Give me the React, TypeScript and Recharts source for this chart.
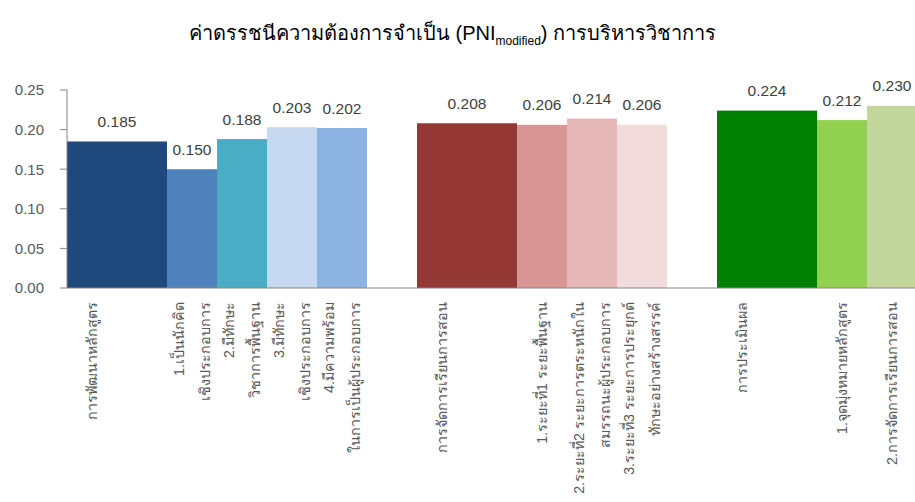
import React from 'react';
import { BarChart, Bar, XAxis, YAxis } from 'recharts';

// one slot per category position; wide bars cover two slots
const slotLabels = [
  'การพัฒนาหลักสูตร',
  '',
  '1.เป็นนักคิด\nเชิงประกอบการ',
  '2.มีทักษะ\nวิชาการพื้นฐาน',
  '3.มีทักษะ\nเชิงประกอบการ',
  '4.มีความพร้อม\nในการเป็นผู้ประกอบการ',
  '',
  'การจัดการเรียนการสอน',
  '',
  '1.ระยะที่1 ระยะพื้นฐาน',
  '2.ระยะที่2 ระยะการตระหนักใน\nสมรรถนะผู้ประกอบการ',
  '3.ระยะที่3 ระยะการประยุกต์\nทักษะอย่างสร้างสรรค์',
  '',
  'การประเมินผล',
  '',
  '1.จุดมุ่งหมายหลักสูตร',
  '2.การจัดการเรียนการสอน',
];

const slotValues: (number | null)[] = [
  0.185, null, 0.150, 0.188, 0.203, 0.202, null,
  0.208, null, 0.206, 0.214, 0.206, null,
  0.224, null, 0.212, 0.230,
];

const slotSpans = [2, 0, 1, 1, 1, 1, 0, 2, 0, 1, 1, 1, 0, 2, 0, 1, 1];

const barColors = [
  '#1f497d', '', '#4f81bd', '#4bacc6', '#c6d9f1', '#8db3e2', '',
  '#953735', '', '#d99694', '#e6b9b8', '#f2dcdb', '',
  '#008000', '', '#92d050', '#c3d69b',
];

const yTicks = [0, 0.05, 0.1, 0.15, 0.2, 0.25];

const data = slotLabels.map((label, i) => ({
  id: `s${i}`,
  label,
  value: slotValues[i],
  span: slotSpans[i],
  color: barColors[i],
}));

const FONT = "'Liberation Sans', 'Noto Sans', sans-serif";

const SpanBar = (props: any) => {
  const { x, y, width, height, payload } = props;
  if (!payload || payload.value == null || !payload.span) return null;
  const w = width * payload.span;
  return (
    <g>
      <rect x={x} y={y} width={w} height={height} fill={payload.color} />
      <text
        x={x + w / 2}
        y={y - 20}
        textAnchor="middle"
        dominantBaseline="central"
        fontSize={15.5}
        fontFamily={FONT}
        fill="#404040"
      >
        {payload.value.toFixed(3)}
      </text>
    </g>
  );
};

const SlotTick = (props: any) => {
  const { x, payload } = props;
  const idx = parseInt(String(payload.value).slice(1), 10);
  const text = slotLabels[idx];
  if (!text) return null;
  const lines = text.split('\n');
  const top = 302;
  const lh = 26;
  return (
    <g>
      {lines.map((line, i) => {
        const lx = x + (i - (lines.length - 1) / 2) * lh;
        return (
          <text
            key={i}
            x={lx}
            y={top}
            transform={`rotate(-90 ${lx} ${top})`}
            textAnchor="end"
            dominantBaseline="central"
            fontSize={14.3}
            fontFamily={FONT}
            fill="#595959"
          >
            {line}
          </text>
        );
      })}
    </g>
  );
};

export default function App() {
  return (
    <div style={{ position: 'absolute', left: 0, top: 0, width: 915, height: 502, overflow: 'hidden', background: '#fff' }}>
      <div
        style={{
          position: 'absolute',
          top: 17,
          left: 0,
          width: 905,
          textAlign: 'center',
          fontFamily: FONT,
          fontSize: 20,
          color: '#000',
        }}
      >
        ค่าดรรชนีความต้องการจำเป็น (PNI
        <sub style={{ fontSize: 12 }}>modified</sub>) การบริหารวิชาการ
      </div>
      <BarChart
        width={920}
        height={502}
        data={data}
        margin={{ top: 90, right: 3, bottom: 0, left: 0 }}
        barCategoryGap={0}
        barGap={0}
      >
        <XAxis
          dataKey="id"
          interval={0}
          height={214}
          tickLine={false}
          axisLine={{ stroke: '#868686' }}
          tick={<SlotTick />}
        />
        <YAxis
          width={67}
          domain={[0, 0.25]}
          ticks={yTicks}
          tickFormatter={(v: number) => v.toFixed(2)}
          tickSize={7}
          tickMargin={16}
          axisLine={{ stroke: '#868686' }}
          tickLine={{ stroke: '#868686' }}
          tick={{ fontSize: 15, fontFamily: FONT, fill: '#595959' }}
        />
        <Bar dataKey="value" shape={<SpanBar />} isAnimationActive={false} />
      </BarChart>
    </div>
  );
}
